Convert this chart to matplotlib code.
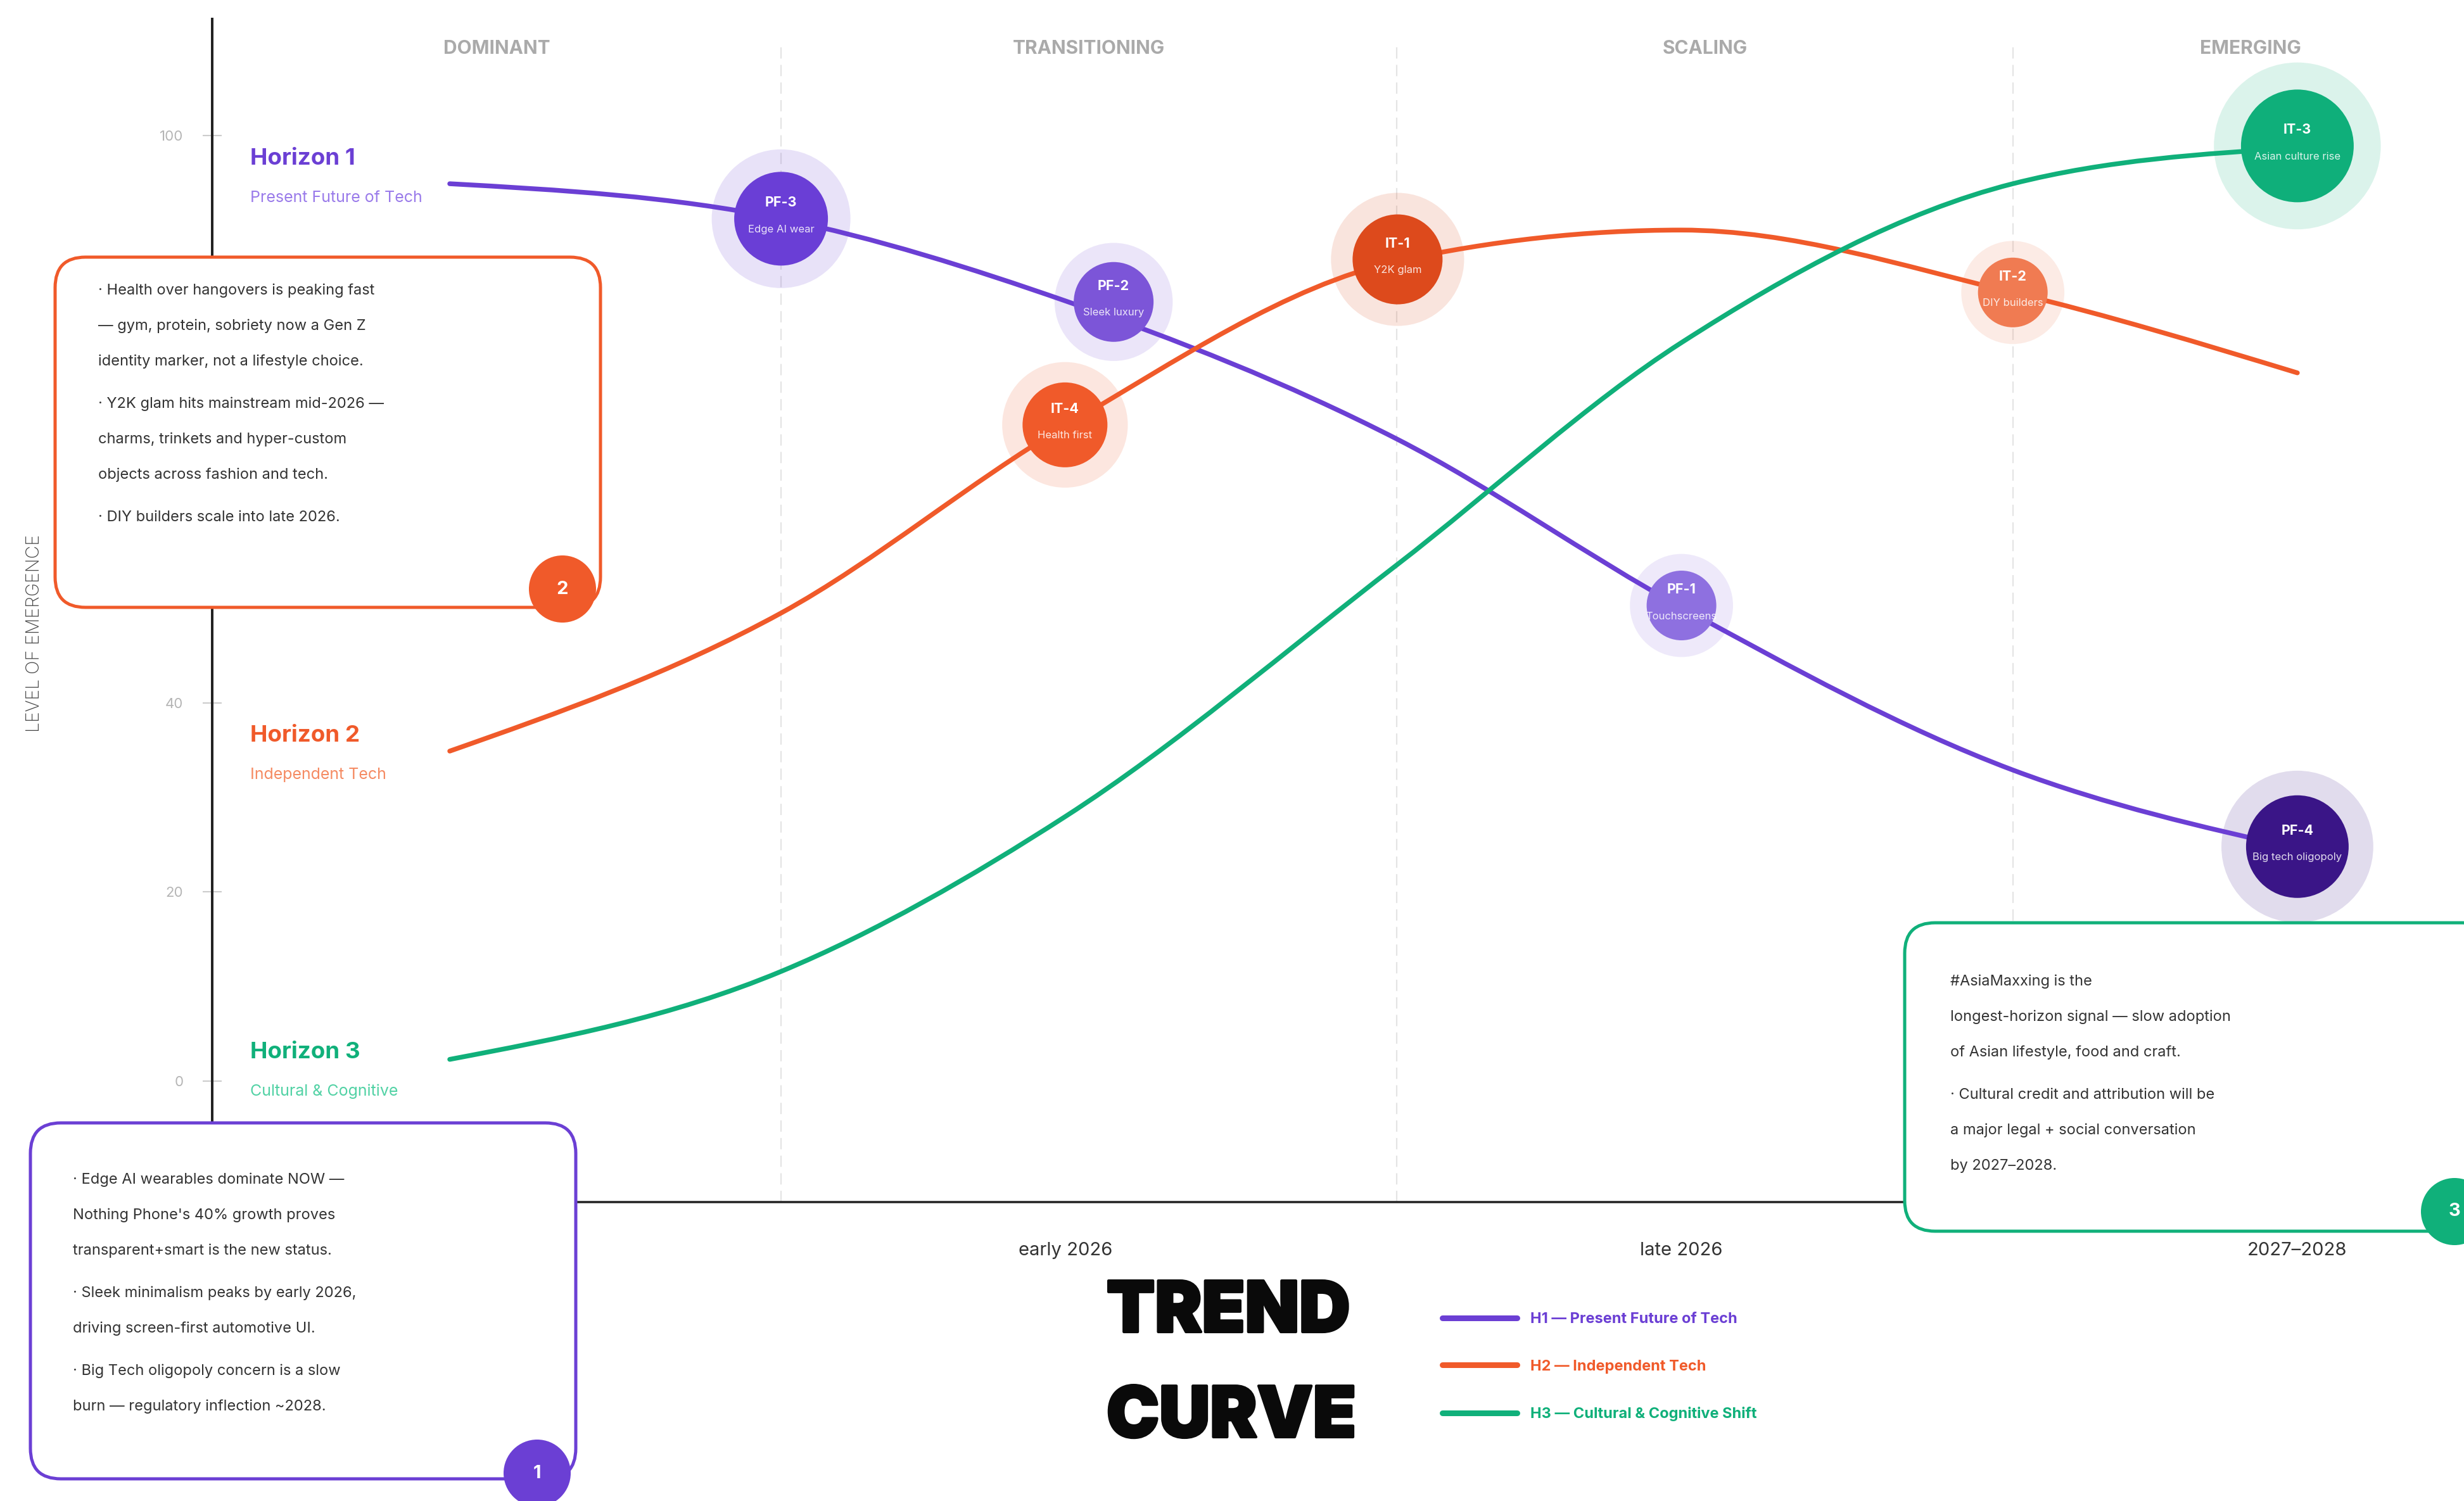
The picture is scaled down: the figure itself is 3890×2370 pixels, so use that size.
import matplotlib
matplotlib.use("Agg")
import matplotlib.pyplot as plt
from matplotlib import font_manager as fm
from matplotlib import patheffects as pe
from matplotlib.patches import FancyBboxPatch, Circle, PathPatch
from matplotlib.path import Path
from matplotlib.lines import Line2D
from matplotlib.transforms import IdentityTransform
import numpy as np

W, H = 3890, 2370
DPI = 100

PURPLE = "#6B3FD4"
ORANGE = "#F05A2A"
GREEN = "#10B07A"
INK = "#333333"

plt.rcParams["font.family"] = ["Inter", "DejaVu Sans"]

# x: 0 = now, 1 = early 2026, 2 = late 2026, 3 = 2027-2028
x_ticks = [1, 2, 3]
x_labels = ["early 2026", "late 2026", "2027–2028"]
y_ticks = [0, 20, 40, 60, 80, 100]
y_tick_labels = ["0", "20", "40", "", "", "100"]   # 60 / 80 sit under the note box
phase_names = ["DOMINANT", "TRANSITIONING", "SCALING", "EMERGING"]
phase_edges = [0.538, 1.538, 2.538]
phase_mid = [0.076, 1.038, 2.038, 2.924]

curve_x = [0.0, 0.538, 1.0, 1.538, 2.0, 2.538, 3.0]
h1_y = [94.9, 91.2, 82.5, 67.9, 50.1, 32.9, 24.6]
h2_y = [34.9, 49.5, 69.3, 86.7, 90.0, 83.4, 74.9]
h3_y = [2.3, 11.6, 28.0, 54.6, 78.1, 94.9, 98.7]

sig_code = ["PF-3", "PF-2", "IT-4", "IT-1", "PF-1", "IT-2", "IT-3", "PF-4"]
sig_name = ["Edge AI wear", "Sleek luxury", "Health first", "Y2K glam",
            "Touchscreens", "DIY builders", "Asian culture rise", "Big tech oligopoly"]
sig_x = [0.538, 1.078, 0.999, 1.539, 2.000, 2.538, 3.000, 3.000]
sig_y = [91.2, 82.4, 69.4, 86.9, 50.3, 83.4, 98.9, 24.8]
sig_size = [74, 63, 67, 71, 55, 55, 89, 81]
sig_color = ["#6A3ED6", "#7C55D8", "#F05A2A", "#DD4A1C",
             "#8E70E0", "#F07B52", "#0FAF7A", "#3A1587"]

horizons = ["Horizon 1", "Horizon 2", "Horizon 3"]
horizon_sub = ["Present Future of Tech", "Independent Tech", "Cultural & Cognitive"]
legend_labels = ["H1 — Present Future of Tech", "H2 — Independent Tech",
                 "H3 — Cultural & Cognitive Shift"]

note2 = [["· Health over hangovers is peaking fast",
          "— gym, protein, sobriety now a Gen Z",
          "identity marker, not a lifestyle choice."],
         ["· Y2K glam hits mainstream mid-2026 —",
          "charms, trinkets and hyper-custom",
          "objects across fashion and tech."],
         ["· DIY builders scale into late 2026."]]
note1 = [["· Edge AI wearables dominate NOW —",
          "Nothing Phone's 40% growth proves",
          "transparent+smart is the new status."],
         ["· Sleek minimalism peaks by early 2026,",
          "driving screen-first automotive UI."],
         ["· Big Tech oligopoly concern is a slow",
          "burn — regulatory inflection ~2028."]]
note3 = [["#AsiaMaxxing is the",
          "longest-horizon signal — slow adoption",
          "of Asian lifestyle, food and craft."],
         ["· Cultural credit and attribution will be",
          "a major legal + social conversation",
          "by 2027–2028."]]


def px(v):
    return v * 72.0 / DPI


def monotone_path(xs, ys):
    # same shape as a monotone-x cubic curve through the points
    x = np.asarray(xs, float)
    y = np.asarray(ys, float)
    n = len(x)
    h = np.diff(x)
    s = np.diff(y) / h
    t = np.zeros(n)
    for i in range(1, n - 1):
        p = (s[i - 1] * h[i] + s[i] * h[i - 1]) / (h[i - 1] + h[i])
        t[i] = (np.sign(s[i - 1]) + np.sign(s[i])) * min(abs(s[i - 1]), abs(s[i]), 0.5 * abs(p))
    t[0] = (3 * s[0] - t[1]) / 2
    t[-1] = (3 * s[-1] - t[-2]) / 2
    verts = [(x[0], y[0])]
    codes = [Path.MOVETO]
    for i in range(n - 1):
        dx = h[i] / 3
        verts += [(x[i] + dx, y[i] + dx * t[i]), (x[i + 1] - dx, y[i + 1] - dx * t[i + 1]),
                  (x[i + 1], y[i + 1])]
        codes += [Path.CURVE4] * 3
    return Path(verts, codes)


def heavy_font():
    for fam in ["Inter", "Roboto", "Lato", "Open Sans", "Noto Sans"]:
        for f in fm.fontManager.ttflist:
            w = f.weight
            if isinstance(w, str):
                w = fm.weight_dict.get(w, 400)
            if f.name == fam and w >= 800 and f.style == "normal":
                return fm.FontProperties(fname=f.fname, size=80)
    return fm.FontProperties(family="DejaVu Sans", weight="bold", size=80)


fig = plt.figure(figsize=(W / DPI, H / DPI), dpi=DPI)
fig.patch.set_facecolor("white")
ax = fig.add_axes([335 / W, (H - 1898) / H, (W - 335) / W, (1898 - 30) / H])
ax.set_xlim(-0.3857, 3.2706)
ax.set_ylim(-12.79, 112.32)

for s in ["top", "right"]:
    ax.spines[s].set_visible(False)
ax.spines["left"].set_linewidth(px(4))
ax.spines["left"].set_color("#222222")
ax.spines["bottom"].set_linewidth(px(3.5))
ax.spines["bottom"].set_color("#222222")

ax.set_yticks(y_ticks)
ax.set_yticklabels(y_tick_labels)
ax.tick_params(axis="y", direction="inout", length=px(30), width=1.5,
               color="#CCCCCC", labelsize=16, labelcolor="#B5B5B5", pad=22)
ax.set_xticks(x_ticks)
ax.set_xticklabels(x_labels)
ax.tick_params(axis="x", length=0, labelsize=21, labelcolor=INK, pad=45)

ax.vlines(phase_edges, -12.79, 110, colors="#E4E4E4", lw=1.6,
          linestyles=(0, (8, 4.5)), zorder=1)
for name, xm in zip(phase_names, phase_mid):
    ax.text(xm, 109.2, name, ha="center", va="center", fontsize=21.5,
            fontweight="bold", color="#AAAAAA")

# halos
ax.scatter(sig_x, sig_y, s=[(2 * px(r * 1.48)) ** 2 for r in sig_size],
           c=sig_color, alpha=0.15, edgecolors="none", zorder=2)

for ys, c in [(h1_y, PURPLE), (h2_y, ORANGE), (h3_y, GREEN)]:
    ax.add_patch(PathPatch(monotone_path(curve_x, ys), fill=False, edgecolor=c,
                           lw=px(7.5), capstyle="round", zorder=3))

ax.scatter(sig_x, sig_y, s=[(2 * px(r)) ** 2 for r in sig_size],
           c=sig_color, edgecolors="none", zorder=4)
for code, name, x, y in zip(sig_code, sig_name, sig_x, sig_y):
    ax.annotate(code, (x, y), xytext=(0, px(25)), textcoords="offset points",
                ha="center", va="center", fontsize=15.5, fontweight="bold",
                color="white", zorder=5)
    ax.annotate(name, (x, y), xytext=(0, -px(17)), textcoords="offset points",
                ha="center", va="center", fontsize=12, color="white",
                alpha=0.85, zorder=5)

T = IdentityTransform()


def ftext(x, y, s, **kw):
    return fig.text(x, H - y, s, transform=T, **kw)


ftext(55, 1000, "LEVEL OF EMERGENCE", rotation=90, ha="center", va="center",
      fontsize=20.5, color="#444444", fontweight="light")

h_base = [260, 1171, 1671]
h_col = [PURPLE, ORANGE, GREEN]
h_sub_col = ["#9A7BEA", "#F58B63", "#52D2A5"]
for name, sub, yb, c, cs in zip(horizons, horizon_sub, h_base, h_col, h_sub_col):
    ftext(395, yb, name, fontsize=26.5, fontweight="bold", color=c, va="baseline")
    ftext(395, yb + 59, sub, fontsize=18, color=cs, va="baseline")


def note_box(left, top, right, bottom, color, num, badge, text_x, first_base, paras):
    box = FancyBboxPatch((left, H - bottom), right - left, bottom - top,
                         boxstyle="round,pad=0,rounding_size=48", transform=T,
                         facecolor="white", edgecolor=color, lw=px(5), zorder=6)
    fig.add_artist(box)
    fig.add_artist(Circle((badge[0], H - badge[1]), 53, transform=T,
                          facecolor=color, edgecolor="none", zorder=7))
    ftext(badge[0], badge[1], num, ha="center", va="center", fontsize=21,
          fontweight="bold", color="white", zorder=8)
    yb = first_base
    for para in paras:
        for line in para:
            ftext(text_x, yb, line, fontsize=17, color=INK, va="baseline", zorder=8)
            yb += 56
        yb += 11


note_box(87, 406, 948, 959, ORANGE, "2", (888, 930), 155, 465, note2)
note_box(48, 1773, 909, 2335, PURPLE, "1", (848, 2326), 115, 1869, note1)
note_box(3007, 1457, 3935, 1944, GREEN, "3", (3875, 1913), 3079, 1556, note3)

title_font = heavy_font()
heavier = [pe.withStroke(linewidth=3, foreground="#0A0A0A")]
ftext(1747, 2103, "TREND", fontproperties=title_font, color="#0A0A0A",
      va="baseline", path_effects=heavier)
ftext(1747, 2269, "CURVE", fontproperties=title_font, color="#0A0A0A",
      va="baseline", path_effects=heavier)

handles = [Line2D([], [], color=c, lw=px(9), solid_capstyle="round") for c in h_col]
leg = fig.legend(handles, legend_labels, loc="upper left",
                 bbox_to_anchor=(2277 / W, 1 - 2072 / H), frameon=False,
                 borderpad=0, borderaxespad=0, handlelength=5.0,
                 handletextpad=0.9, labelspacing=2.23,
                 prop={"size": 17, "weight": "bold"})
for t, c in zip(leg.get_texts(), h_col):
    t.set_color(c)

fig.savefig("out.png", dpi=DPI, facecolor="white")
